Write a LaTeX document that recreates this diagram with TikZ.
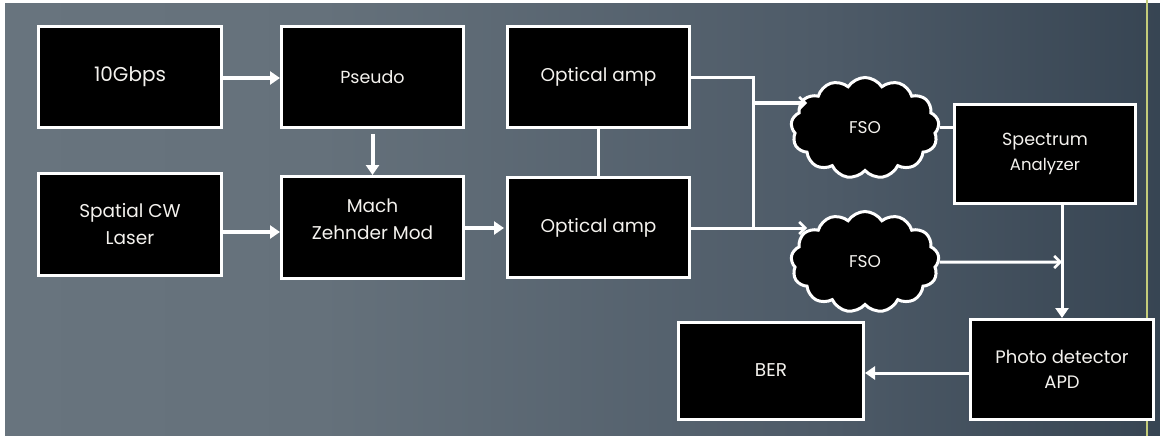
\documentclass[tikz,border=0pt]{standalone}
\usepackage{fontspec}
\setmainfont{Poppins}
\usetikzlibrary{shapes.symbols,arrows.meta}
\definecolor{bgA}{HTML}{46535F}
\definecolor{bgB}{HTML}{6A7680}
\definecolor{bgC}{HTML}{65717B}
\definecolor{bgD}{HTML}{4E5B68}
\definecolor{bgE}{HTML}{33414F}
\definecolor{bgF}{HTML}{1D2B3A}
\definecolor{bgG}{HTML}{1B2938}
\definecolor{rule}{HTML}{C4CC7A}
\definecolor{txt}{HTML}{F4F2EE}
\pgfdeclarehorizontalshading{bgshade}{100bp}{color(0bp)=(bgA); color(16.4bp)=(bgB); color(38.8bp)=(bgC); color(60.3bp)=(bgD); color(77.6bp)=(bgE); color(94.8bp)=(bgF); color(100bp)=(bgG)}
\begin{document}
\begin{tikzpicture}[x=1pt,y=-1pt,
  box/.style={draw=white, line width=3pt, fill=black, text=txt, align=center, inner sep=0pt},
  big/.style={font=\fontsize{18.5}{27}\selectfont},
  mid/.style={font=\fontsize{17.5}{25}\selectfont},
  fso/.style={cloud, cloud puffs=13, cloud puff arc=115, aspect=1.45, draw=white, line width=3pt, fill=black, text=txt, minimum width=148pt, minimum height=101pt, inner sep=0pt, font=\fontsize{17}{20}\selectfont},
  fat/.style={draw=white, line width=4pt, -{Triangle[length=10pt,width=13pt]}},
  wire/.style={draw=white, line width=3pt},
  barb/.style={wire, -{Straight Barb[length=6pt,width=12pt,line width=2.5pt]}},
  tri/.style={wire, -{Triangle[length=10pt,width=13pt]}}]
\useasboundingbox (0,0) rectangle (1160,436);
\shade[shading=bgshade] (0,0) rectangle (1160,436);
\fill[white] (0,0) rectangle (5,436);
\fill[white] (0,0) rectangle (1160,3);
\fill[rule] (1145.5,0) rectangle (1147.5,436);

\node[box, font=\fontsize{20}{24}\selectfont, minimum width=183pt, minimum height=101pt] (g10) at (130,77) {10Gbps};
\node[box, mid, minimum width=182pt, minimum height=101pt] (pseudo) at (372.5,77) {Pseudo};
\node[box, big, minimum width=183pt, minimum height=102pt] (laser) at (130,224.5) {Spatial CW\\Laser};
\node[box, big, minimum width=182pt, minimum height=102pt] (mz) at (372.5,227.5)
  {\raisebox{3pt}[0pt][0pt]{\begin{tabular}{@{}c@{}}Mach\\Zehnder Mod\end{tabular}}};
\node[box, big, minimum width=182pt, minimum height=101pt] (oa1) at (598.5,77) {Optical amp};
\node[box, big, minimum width=182pt, minimum height=100pt] (oa2) at (598.5,227.5) {Optical amp};
\node[box, font=\fontsize{16.5}{25}\selectfont, minimum width=181pt, minimum height=99pt] (spec) at (1045,154)
  {{\fontsize{17.5}{25}\selectfont Spectrum}\\Analyzer};
\node[box, font=\fontsize{18}{25}\selectfont, minimum width=183pt, minimum height=100pt] (pd) at (1062,369.5) {Photo detector\\APD};
\node[box, big, minimum width=185pt, minimum height=97pt] (ber) at (771,370.5) {BER};
\node[fso] (fso1) at (865,128) {FSO};
\node[fso] (fso2) at (865,262) {FSO};

\coordinate (split) at (753,78);
\coordinate (tap) at (753,103);
\coordinate (in1) at (807,103);
\coordinate (in2) at (807,228);
\coordinate (mzin) at ([yshift=-4.5pt]mz.west);
\coordinate (join) at (1062,262);

\draw[fat] (g10.east |- 0,78) -- (pseudo.west |- 0,78);
\draw[fat, shorten <=5pt] (pseudo.south) -- (mz.north);
\draw[fat] (laser.east |- mzin) -- (mzin);
\draw[fat, shorten >=2pt] (mz.east |- 0,228) -- (oa2.west |- 0,228);
\draw[wire] (oa1.south) -- (oa2.north);
\draw[wire] (oa1.east |- split) -- (split) -- (split |- in2);
\draw[barb] (tap) -- (in1);
\draw[barb] (oa2.east |- in2) -- (in2);
\draw[wire] (fso1.east) -- (fso1.east -| spec.west);
\draw[barb] (fso2.east) -- (join);
\draw[tri] (spec.south -| pd.north) -- (pd.north);
\draw[tri] (pd.west |- 0,373) -- (ber.east |- 0,373);
\end{tikzpicture}
\end{document}
